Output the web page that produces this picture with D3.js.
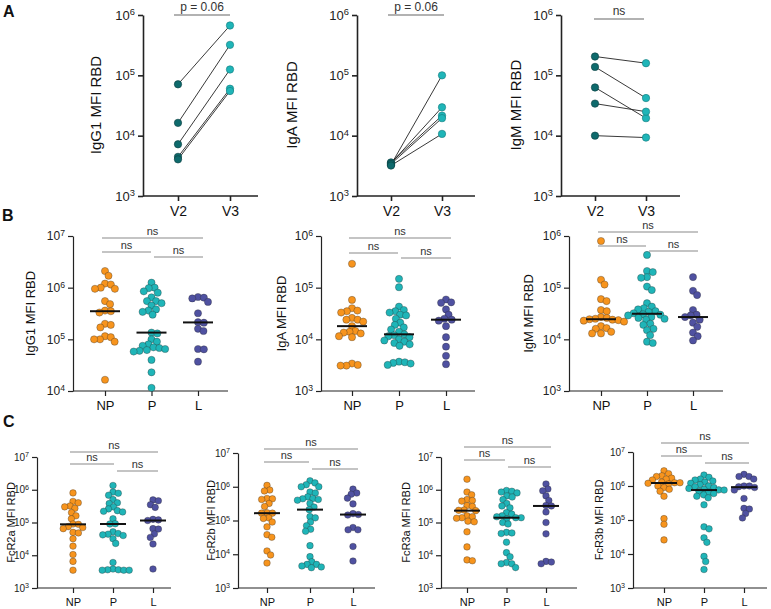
<!DOCTYPE html>
<html><head><meta charset="utf-8">
<script src="https://cdn.jsdelivr.net/npm/d3@7/dist/d3.min.js"></script>
<style>body{margin:0;background:#fff}</style>
</head><body>
<script>
// ---------- DATA ----------
const visits = ["V2", "V3"];
const groups = ["NP", "P", "L"];
const decadesA = [1e3, 1e4, 1e5, 1e6];
// Panel A (paired)
const igg1V2 = [7.1e4, 1.63e4, 7.2e3, 4.45e3, 4.05e3];
const igg1V3 = [6.7e5, 3.2e5, 1.25e5, 6.0e4, 5.5e4];
const igaV2 = [3.3e3, 3.5e3, 3.6e3, 3.4e3, 3.2e3];
const igaV3 = [1.0e5, 2.95e4, 2.15e4, 1.95e4, 1.07e4];
const igmV2 = [2.05e5, 1.38e5, 6.3e4, 3.4e4, 1.0e4];
const igmV3 = [1.59e5, 4.2e4, 1.95e4, 2.5e4, 9.3e3];
// Panel B
const igg1NP = [2.1e6, 1.7e6, 1.2e6, 1.15e6, 1.0e6, 0.95e6, 0.95e6, 0.55e6, 0.48e6, 0.36e6, 0.35e6, 0.33e6, 0.2e6, 0.19e6, 0.17e6, 0.115e6, 0.11e6, 0.1e6, 0.1e6, 0.09e6, 1.65e4];
const igg1P = [1.25e6, 1.0e6, 0.98e6, 0.85e6, 0.8e6, 0.65e6, 0.55e6, 0.55e6, 0.5e6, 0.45e6, 0.38e6, 0.36e6, 0.34e6, 0.3e6, 1.35e5, 1.3e5, 1.0e5, 0.9e5, 0.8e5, 0.75e5, 0.7e5, 0.68e5, 0.65e5, 0.62e5, 0.6e5, 0.58e5, 4.0e4, 2.3e4, 1.15e4];
const igg1L = [6.6e5, 6.4e5, 6.2e5, 5.3e5, 3.2e5, 2.15e5, 2.1e5, 1.6e5, 1.45e5, 6.5e4, 6.4e4, 3.7e4];
const igaNP = [2.9e5, 5.8e4, 4.0e4, 3.6e4, 3.5e4, 3.3e4, 2.6e4, 2.4e4, 2.4e4, 2.2e4, 1.8e4, 1.45e4, 1.4e4, 1.35e4, 1.3e4, 1.15e4, 1.1e4, 3.4e3, 3.2e3, 3.1e3, 3.1e3];
const igaP = [1.48e5, 1.02e5, 4.3e4, 3.7e4, 3.5e4, 3.3e4, 3.0e4, 2.9e4, 2.5e4, 2.1e4, 1.9e4, 1.7e4, 1.55e4, 1.4e4, 1.25e4, 1.2e4, 1.15e4, 1.1e4, 1.0e4, 9.5e3, 9e3, 8.5e3, 8e3, 7.5e3, 3.7e3, 3.6e3, 3.5e3, 3.4e3, 3.2e3];
const igaL = [5.9e4, 5.2e4, 5.1e4, 3.8e4, 3.0e4, 2.5e4, 2.4e4, 2.3e4, 1.8e4, 1.1e4, 7.2e3, 4.8e3, 3.3e3];
const igmNP = [8e5, 1.42e5, 1.15e5, 6e4, 5.5e4, 3.7e4, 3.5e4, 2.7e4, 2.6e4, 2.5e4, 2.45e4, 2.4e4, 2.35e4, 2.3e4, 2.2e4, 1.8e4, 1.65e4, 1.6e4, 1.4e4, 1.3e4, 1.3e4];
const igmP = [4.3e5, 2.1e5, 2.0e5, 1.6e5, 1.55e5, 1.05e5, 9.0e4, 5.0e4, 4.3e4, 4.0e4, 3.8e4, 3.5e4, 3.4e4, 3.2e4, 3.05e4, 3.0e4, 2.9e4, 2.7e4, 2.6e4, 2.5e4, 2.4e4, 2.0e4, 1.9e4, 1.6e4, 1.5e4, 1.2e4, 9.0e3, 8.5e3];
const igmL = [1.6e5, 8.7e4, 7.2e4, 3.7e4, 3.0e4, 2.9e4, 2.7e4, 2.4e4, 2.1e4, 1.75e4, 1.35e4, 1.15e4, 9.5e3];
// Panel C
const fc2aNP = [8e5, 4.4e5, 4.0e5, 3.2e5, 3.0e5, 2.7e5, 2.0e5, 1.6e5, 1.3e5, 9e4, 8.8e4, 7.5e4, 7e4, 6.5e4, 5e4, 4.8e4, 3.2e4, 1.9e4, 1.05e4, 6.5e3, 3.5e3];
const fc2aP = [1.35e6, 8.5e5, 7.8e5, 6.8e5, 5e5, 4e5, 3.8e5, 3.0e5, 2.6e5, 2.3e5, 2.2e5, 2.1e5, 1.3e5, 9.2e4, 9e4, 5.2e4, 4.6e4, 4.4e4, 4.2e4, 4.0e4, 3.2e4, 2.3e4, 6e3, 3.8e3, 3.6e3, 3.6e3, 3.5e3, 3.5e3, 3.5e3];
const fc2aL = [4.9e5, 4.6e5, 3.5e5, 2.9e5, 1.25e5, 1.2e5, 1.15e5, 6.5e4, 6.3e4, 4.5e4, 3.5e4, 2.2e4, 3.8e3];
const fc2bNP = [1.1e6, 8.0e5, 7.5e5, 4.5e5, 4.4e5, 4.2e5, 3.2e5, 2.6e5, 1.7e5, 1.65e5, 1.65e5, 1.2e5, 1.15e5, 9e4, 6.5e4, 3.8e4, 3.2e4, 1.25e4, 9.5e3, 5.5e3];
const fc2bP = [1.5e6, 1.3e6, 1.15e6, 1.0e6, 1.0e6, 7.0e5, 6.5e5, 5.0e5, 4.5e5, 4.4e5, 4.2e5, 4.0e5, 3.2e5, 2.5e5, 2.1e5, 1.3e5, 1.2e5, 9e4, 7e4, 5.5e4, 4.8e4, 1.8e4, 8.5e3, 6e3, 5e3, 5e3, 4.5e3, 4.2e3, 4e3];
const fc2bL = [8.5e5, 6.5e5, 6e5, 4.6e5, 3.1e5, 1.6e5, 1.5e5, 1.45e5, 6.2e4, 5.3e4, 5.3e4, 1.7e4, 6.3e3];
const fc3aNP = [2.1e6, 8.5e5, 7e5, 5e5, 4.7e5, 4.5e5, 3.3e5, 3.1e5, 2.4e5, 2.35e5, 2.3e5, 1.6e5, 1.5e5, 1.4e5, 1.35e5, 1.1e5, 1.05e5, 5.2e4, 1.8e4, 7.2e3, 6.8e3];
const fc3aP = [9.5e5, 9e5, 8.5e5, 8e5, 6.5e5, 6e5, 5e5, 3.8e5, 3.2e5, 2.8e5, 2e5, 1.8e5, 1.6e5, 1.5e5, 1.4e5, 1.4e5, 1.3e5, 1.0e5, 9e4, 5e4, 4.8e4, 4.6e4, 2.5e4, 1.2e4, 9e3, 6e3, 5.5e3, 5.5e3, 4.2e3];
const fc3aL = [1.5e6, 1.05e6, 9.3e5, 6.5e5, 4.7e5, 3.3e5, 3.2e5, 2.1e5, 1e5, 4.5e4, 6.5e3, 6.2e3, 5.5e3];
const fc3bNP = [2.8e6, 2.3e6, 2.0e6, 1.9e6, 1.7e6, 1.6e6, 1.5e6, 1.3e6, 1.25e6, 1.25e6, 1.2e6, 1.15e6, 1.0e6, 9e5, 8e5, 7e5, 5e5, 1.1e5, 7.5e4, 2.6e4];
const fc3bP = [2.1e6, 1.8e6, 1.6e6, 1.5e6, 1.4e6, 1.3e6, 1.2e6, 1.1e6, 1.0e6, 9.5e5, 9e5, 8.5e5, 8e5, 7.7e5, 7.6e5, 7e5, 6.5e5, 6e5, 5.5e5, 5e5, 4.5e5, 2.8e5, 6.3e4, 5.5e4, 3e4, 2.2e4, 8.5e3, 6e3, 3.5e3];
const fc3bL = [2.2e6, 1.9e6, 1.9e6, 1.6e6, 1.0e6, 1.0e6, 9.5e5, 9e5, 7.6e5, 4.3e5, 2.2e5, 2.1e5, 1.55e5, 1.15e5];

// ---------- STYLE ----------
const cOrange = "#F7941D", cTeal = "#1FB5B8", cPurple = "#4F51A1", cDark = "#0E6A6C";
const groupColors = [cOrange, cTeal, cPurple];
const FONT = "'Liberation Sans', Arial, Helvetica, sans-serif";

const svg = d3.select("body").append("svg")
  .attr("width", 771).attr("height", 609)
  .style("font-family", FONT);

function supTicks(g, fs) {
  g.selectAll(".tick text").each(function (d) {
    const t = d3.select(this);
    t.text("10").attr("font-size", fs).attr("fill", "#222");
    t.append("tspan").attr("dy", "-0.5em").attr("font-size", (fs * 0.72) + "px")
      .text(Math.round(Math.log10(d)));
  });
}

function yAxis(y, ax, ticks, fs, sw) {
  const g = svg.append("g").attr("transform", `translate(${ax},0)`)
    .call(d3.axisLeft(y).tickValues(ticks).tickSize(5).tickPadding(3).tickSizeOuter(0));
  g.select(".domain").attr("stroke", "#222").attr("stroke-width", sw);
  g.selectAll(".tick line").attr("stroke", "#222").attr("stroke-width", sw);
  supTicks(g, fs);
  return g;
}

function xAxis(x, cats, ax, xEnd, yb, fs, sw) {
  svg.append("line").attr("x1", ax).attr("x2", xEnd).attr("y1", yb).attr("y2", yb)
    .attr("stroke", "#222").attr("stroke-width", sw);
  const g = svg.append("g").attr("transform", `translate(0,${yb})`)
    .call(d3.axisBottom(x).tickSize(5).tickPadding(5).tickSizeOuter(0));
  g.select(".domain").remove();
  g.selectAll(".tick line").attr("stroke", "#222").attr("stroke-width", sw);
  g.selectAll(".tick text").attr("font-size", fs).attr("fill", "#111").attr("font-family", FONT);
}

function yTitle(text, x, yc, fs) {
  svg.append("text").attr("transform", `translate(${x},${yc}) rotate(-90)`)
    .attr("text-anchor", "middle").attr("dominant-baseline", "middle")
    .attr("font-size", fs).attr("fill", "#111").text(text);
}

function bracket(x1, x2, yl, label, fs, col) {
  svg.append("line").attr("x1", x1).attr("x2", x2).attr("y1", yl).attr("y2", yl)
    .attr("stroke", col || "#8a8a8a").attr("stroke-width", 1.2);
  svg.append("text").attr("x", (x1 + x2) / 2).attr("y", yl - 3)
    .attr("text-anchor", "middle").attr("font-size", fs).attr("fill", "#333").text(label);
}

// beeswarm with partial overlap allowed (like GraphPad scatter)
function swarm(ys, r) {
  const idx = ys.map((_, i) => i).sort((a, b) => ys[a] - ys[b]);
  const placed = [], out = new Array(ys.length), D = 2 * r * 0.82;
  idx.forEach(i => {
    const y = ys[i];
    const near = placed.filter(p => Math.abs(p.y - y) < D);
    const cands = [0];
    near.forEach(p => { const dx = Math.sqrt(D * D - (p.y - y) ** 2); cands.push(p.x + dx, p.x - dx); });
    cands.sort((a, b) => Math.abs(a) - Math.abs(b) || b - a);
    let x = 0;
    for (const c of cands) {
      if (near.every(p => (p.x - c) ** 2 + (p.y - y) ** 2 >= D * D - 1e-6)) { x = c; break; }
    }
    placed.push({ x, y }); out[i] = x;
  });
  return out;
}

// ---------- PANEL LETTERS ----------
[["A", 3, 17], ["B", 2, 221], ["C", 3, 427]].forEach(([t, x, y]) =>
  svg.append("text").attr("x", x).attr("y", y).attr("font-size", 16).attr("font-weight", "bold").attr("fill", "#111").text(t));

// ---------- PANEL A ----------
const aPanels = [
  { title: "IgG1 MFI RBD", v2: igg1V2, v3: igg1V3, ax: 143, xEnd: 258, c0: 178, c1: 230, tX: 97, stat: "p = 0.06", br: [174, 230, 15] },
  { title: "IgA MFI RBD", v2: igaV2, v3: igaV3, ax: 357, xEnd: 475, c0: 391, c1: 442, tX: 293, stat: "p = 0.06", br: [388, 444, 15] },
  { title: "IgM MFI RBD", v2: igmV2, v3: igmV3, ax: 561, xEnd: 680, c0: 595, c1: 646, tX: 517, stat: "ns", br: [594, 644, 19] }
];
aPanels.forEach(p => {
  const y = d3.scaleLog().domain([1e3, 1e6]).range([196, 15]);
  const x = d3.scalePoint().domain(visits).range([p.c0, p.c1]);
  yAxis(y, p.ax, decadesA, 13, 1.6);
  xAxis(x, visits, p.ax, p.xEnd, 196, 14, 1.6);
  yTitle(p.title, p.tX, 105, 15);
  svg.append("line").attr("x1", p.br[0]).attr("x2", p.br[1]).attr("y1", p.br[2]).attr("y2", p.br[2])
    .attr("stroke", "#999").attr("stroke-width", 1.5);
  svg.append("text").attr("x", (p.br[0] + p.br[1]) / 2).attr("y", p.br[2] - 4).attr("text-anchor", "middle")
    .attr("font-size", 12).attr("fill", "#333").text(p.stat);
  const pairs = p.v2.map((v, i) => [v, p.v3[i]]);
  svg.append("g").selectAll("line").data(pairs).join("line")
    .attr("x1", x("V2")).attr("x2", x("V3")).attr("y1", d => y(d[0])).attr("y2", d => y(d[1]))
    .attr("stroke", "#222").attr("stroke-width", 0.9);
  svg.append("g").selectAll("circle").data(p.v2).join("circle")
    .attr("cx", x("V2")).attr("cy", d => y(d)).attr("r", 3.7)
    .attr("fill", cDark).attr("stroke", "#0a3d3e").attr("stroke-width", 0.6);
  svg.append("g").selectAll("circle").data(p.v3).join("circle")
    .attr("cx", x("V3")).attr("cy", d => y(d)).attr("r", 3.7)
    .attr("fill", cTeal).attr("stroke", "#127a7c").attr("stroke-width", 0.6);
});

// ---------- DOT PLOTS (B, C) ----------
function dotPlot(p) {
  const y = d3.scaleLog().domain(p.dom).range(p.yr);
  const x = d3.scalePoint().domain(groups).range([p.cats[0], p.cats[2]]);
  const ticks = [];
  for (let v = p.dom[0]; v <= p.dom[1] * 1.001; v *= 10) ticks.push(v);
  yAxis(y, p.ax, ticks, p.tfs, 1.2);
  xAxis(x, groups, p.ax, p.xEnd, p.yr[0], p.xfs, 1.2);
  yTitle(p.title, p.tX, (p.yr[0] + p.yr[1]) / 2, p.titleFs);
  const c = p.cats;
  bracket(c[0] - 3, c[2] + 5, p.br[0], "ns", p.nsFs);
  bracket(c[0] - 3, c[1] - 1, p.br[1], "ns", p.nsFs);
  bracket(c[1] + 2, c[2] + 5, p.br[2], "ns", p.nsFs);
  p.data.forEach((vals, gi) => {
    const ys = vals.map(v => y(v));
    const offs = swarm(ys, p.r);
    const cx = x(groups[gi]);
    svg.append("g").selectAll("circle").data(vals).join("circle")
      .attr("cx", (d, i) => cx + offs[i]).attr("cy", d => y(d)).attr("r", p.r)
      .attr("fill", groupColors[gi]).attr("stroke", "rgba(40,40,40,0.55)").attr("stroke-width", 0.6);
    const med = d3.median(vals);
    svg.append("line").attr("x1", cx - p.mw).attr("x2", cx + p.mw).attr("y1", y(med)).attr("y2", y(med))
      .attr("stroke", "#111").attr("stroke-width", 2);
  });
}

const bPanels = [
  { title: "IgG1 MFI RBD", data: [igg1NP, igg1P, igg1L], ax: 73, xEnd: 228, cats: [105, 152, 198], dom: [1e4, 1e7], yr: [391, 236], tX: 32, br: [238, 252, 257] },
  { title: "IgA MFI RBD", data: [igaNP, igaP, igaL], ax: 321, xEnd: 475, cats: [352, 399, 446], dom: [1e3, 1e6], yr: [391, 236], tX: 283, br: [238, 253, 258] },
  { title: "IgM MFI RBD", data: [igmNP, igmP, igmL], ax: 569, xEnd: 723, cats: [601, 647, 693], dom: [1e3, 1e6], yr: [391, 236], tX: 530, br: [232, 246, 251] }
];
bPanels.forEach(p => dotPlot(Object.assign({ tfs: 12, xfs: 13, titleFs: 13, nsFs: 11, r: 3.6, mw: 15 }, p)));

const cPanels = [
  { title: "FcR2a MFI RBD", data: [fc2aNP, fc2aP, fc2aL], ax: 37, xEnd: 171, cats: [73, 115, 153], dom: [1e3, 1e7], yr: [588, 457], tX: 12, br: [452, 464, 471] },
  { title: "FcR2b MFI RBD", data: [fc2bNP, fc2bP, fc2bL], ax: 238, xEnd: 375, cats: [267, 310, 353], dom: [1e3, 1e7], yr: [588, 453], tX: 212, br: [449, 462, 469] },
  { title: "FcR3a MFI RBD", data: [fc3aNP, fc3aP, fc3aL], ax: 441, xEnd: 577, cats: [467, 506, 546], dom: [1e3, 1e7], yr: [588, 457], tX: 407, br: [447, 460, 467] },
  { title: "FcR3b MFI RBD", data: [fc3bNP, fc3bP, fc3bL], ax: 633, xEnd: 767, cats: [664, 703, 744], dom: [1e3, 1e7], yr: [588, 452], tX: 600, br: [443, 456, 463] }
];
cPanels.forEach(p => dotPlot(Object.assign({ tfs: 10, xfs: 11, titleFs: 11, nsFs: 11, r: 3.3, mw: 13 }, p)));
</script>
</body></html>
